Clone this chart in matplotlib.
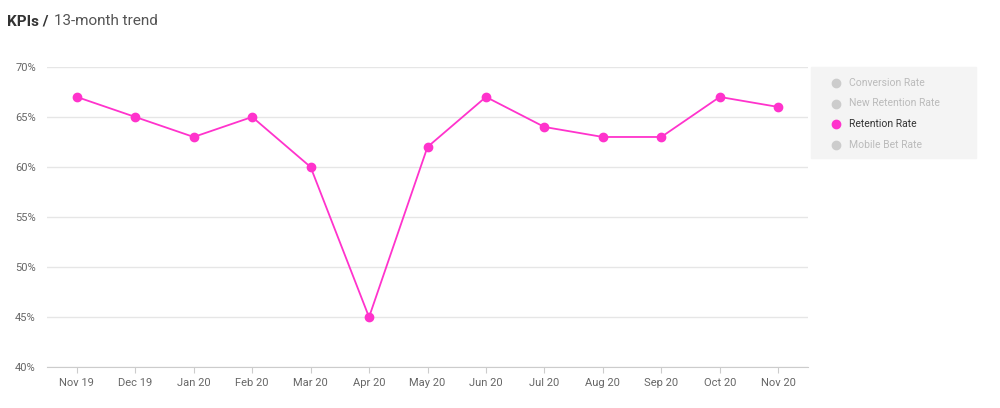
import matplotlib.pyplot as plt
from matplotlib.patches import Rectangle

months = ['Nov 19', 'Dec 19', 'Jan 20', 'Feb 20', 'Mar 20', 'Apr 20', 'May 20',
          'Jun 20', 'Jul 20', 'Aug 20', 'Sep 20', 'Oct 20', 'Nov 20']
retention = [67, 65, 63, 65, 60, 45, 62, 67, 64, 63, 63, 67, 66]
series = ['Conversion Rate', 'New Retention Rate', 'Retention Rate', 'Mobile Bet Rate']
active = 'Retention Rate'
pink = '#ff33cc'

plt.rcParams['font.family'] = ['Roboto', 'DejaVu Sans']
fig = plt.figure(figsize=(10, 4.08), dpi=100)
ax = fig.add_axes([0.047, 0.10, 0.761, 0.736])

x = range(len(months))
ax.plot(x, retention, color=pink, lw=1.3, marker='o', ms=6, zorder=3)
ax.set_xlim(-0.51, len(months) - 0.49)
ax.set_ylim(40, 70)
ax.set_yticks(range(40, 71, 5))
ax.set_yticklabels([f'{v}%' for v in range(40, 71, 5)])
ax.set_xticks(list(x))
ax.set_xticklabels(months)
ax.grid(axis='y', color='#e6e6e6', lw=1)
ax.set_axisbelow(True)
for s in ['top', 'right', 'left']:
    ax.spines[s].set_visible(False)
ax.spines['bottom'].set_color('#cccccc')
ax.tick_params(axis='y', length=0, labelsize=8, colors='#666666', pad=8)
ax.tick_params(axis='x', length=4, color='#cccccc', labelsize=8, colors='#666666')

fig.text(0.007, 0.948, 'KPIs /', fontsize=11, fontweight='bold', color='#333333', va='center')
fig.text(0.054, 0.948, '13-month trend', fontsize=11, color='#555555', va='center')

# legend panel
fig.patches.append(Rectangle((0.811, 1 - 158 / 408), 0.165, 91 / 408,
                             transform=fig.transFigure, color='#f4f4f4', zorder=0))
for i, name in enumerate(series):
    y = 1 - (83 + i * 20.5) / 408
    c = pink if name == active else '#cccccc'
    tc = '#333333' if name == active else '#bbbbbb'
    fig.lines.append(plt.Line2D([0.8355], [y], marker='o', ms=6, color=c,
                                transform=fig.transFigure))
    fig.text(0.849, y, name, fontsize=7.5, color=tc, va='center')

fig.savefig('out.png')
